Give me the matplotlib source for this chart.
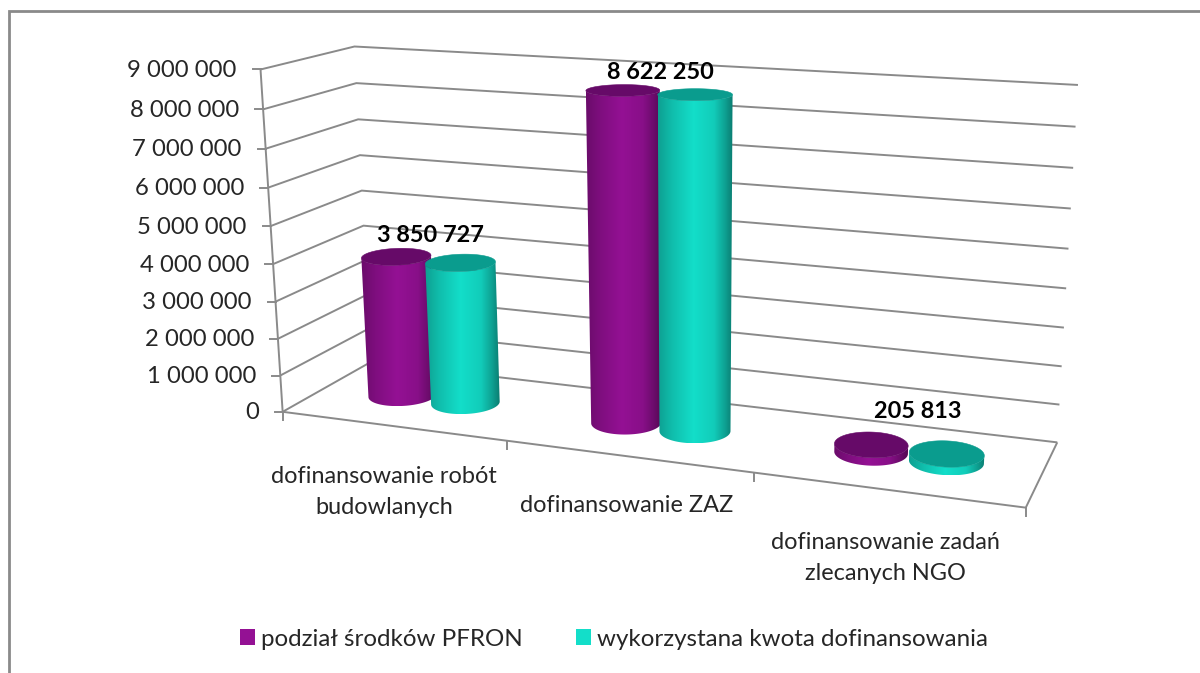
import numpy as np
import matplotlib
matplotlib.use("Agg")
import matplotlib.pyplot as plt
from matplotlib.patches import Patch, Polygon

categorias = ["dofinansowanie robót\nbudowlanych", "dofinansowanie ZAZ", "dofinansowanie zadań\nzlecanych NGO"]
podzial = [3850727, 8622250, 205813]
wykorzystana = [3850727, 8622250, 205813]
etykiety = ["3 850 727", "8 622 250", "205 813"]
ticks_y = [0, 1000000, 2000000, 3000000, 4000000, 5000000, 6000000, 7000000, 8000000, 9000000]
ticks_txt = ["0", "1 000 000", "2 000 000", "3 000 000", "4 000 000", "5 000 000", "6 000 000", "7 000 000", "8 000 000", "9 000 000"]
nazwy = ["podział środków PFRON", "wykorzystana kwota dofinansowania"]
kolory = [(0.58, 0.065, 0.58), (0.075, 0.87, 0.79)]
kolory_gora = ["#660A68", "#0A9C8E"]

ZMAX = 9000000.0
GRIS = "#8a8a8a"
TEXTO = "#262626"

plt.rcParams["font.family"] = ["Lato", "DejaVu Sans"]

# camara: esquinas de la caja (categoria, profundidad, valor/ZMAX) -> pixel
puntos = [(0, 0, 0), (3, 0, 0), (3, 1, 0), (0, 1, 0), (0, 0, 1), (0, 1, 1), (3, 1, 1)]
pixeles = [(282, 411), (1026, 508), (1057, 442), (371, 363), (261, 70), (354, 46), (1078, 85)]


def camara(pts, pix):
    A = []
    for (u, v, w), (x, y) in zip(pts, pix):
        A.append([u, v, w, 1, 0, 0, 0, 0, -u*x, -v*x, -w*x, -x])
        A.append([0, 0, 0, 0, u, v, w, 1, -u*y, -v*y, -w*y, -y])
    return np.linalg.svd(np.array(A, dtype=float))[2][-1].reshape(3, 4)


P = camara(puntos, pixeles)


def proy(cat, prof, z):
    cat, prof, z = np.broadcast_arrays(np.asarray(cat, float), np.asarray(prof, float), np.asarray(z, float))
    r = P @ np.stack([cat.ravel(), prof.ravel(), z.ravel()/ZMAX, np.ones(cat.size)])
    return (r[0]/r[2]).reshape(cat.shape), (r[1]/r[2]).reshape(cat.shape)


def linea(ax, cats, profs, zs, lw=1.4):
    x, y = proy(cats, profs, zs)
    ax.plot(x, y, color=GRIS, lw=lw, solid_capstyle="butt", solid_joinstyle="miter", zorder=1)


def arco_frontal(x, y):
    # del punto mas a la izquierda al mas a la derecha, pasando por delante
    i0 = np.argmin(x)
    x, y = np.roll(x, -i0), np.roll(y, -i0)
    i1 = np.argmax(x)
    return np.column_stack([x[:i1+1], y[:i1+1]])


def cilindro(ax, cat, valor, color, color_gora):
    rx, ry = 0.139, 0.2
    t = np.linspace(np.pi, 3*np.pi, 361)[:-1]
    xc = cat + rx*np.cos(t)
    yc = 0.5 + ry*np.sin(t)
    x0, y0 = proy(xc, yc, 0)
    x1, y1 = proy(xc, yc, valor)
    contorno = np.vstack([arco_frontal(x0, y0), arco_frontal(x1, y1)[::-1]])
    xmin = min(x0.min(), x1.min())
    xmax = max(x0.max(), x1.max())
    s = np.linspace(-1, 1, 256)
    b = np.interp(s, [-1, -0.6, -0.05, 0.5, 0.8, 1], [0.72, 0.86, 1, 0.92, 0.72, 0.56])
    grad = (np.array(color)[None, :]*b[:, None])[None, :, :]
    im = ax.imshow(grad, extent=[xmin, xmax, max(y0.max(), y1.max()), min(y0.min(), y1.min())],
                   aspect="auto", interpolation="bilinear", zorder=3)
    im.set_clip_path(Polygon(contorno, closed=True, transform=ax.transData))
    ax.fill(x1, y1, facecolor=color_gora, edgecolor=color_gora, lw=0.4, zorder=3)


fig = plt.figure(figsize=(12, 6.73), dpi=100)
ax = fig.add_axes([0, 0, 1, 1])
ax.axis("off")

# marco del grafico
ax.plot([9, 9, 1200], [673, 11, 11], color=GRIS, lw=2, solid_joinstyle="miter", zorder=1)

# paredes y piso
for z, txt in zip(ticks_y, ticks_txt):
    linea(ax, [0, 0, 3], [0, 1, 1], [z, z, z])
    x, y = proy(0, 0, z)
    ax.plot([x-8, x], [y, y], color=GRIS, lw=1.4, zorder=1)
    ax.text(x-24, y+1, txt, ha="right", va="center", fontsize=17.2, color=TEXTO)
linea(ax, [0, 0], [0, 0], [0, ZMAX])
linea(ax, [0, 3, 3], [0, 0, 1], [0, 0, 0])
for c in range(0, 4):
    x, y = proy(c, 0, 0)
    ax.plot([x, x], [y, y+8], color=GRIS, lw=1.4, zorder=1)

# cilindros
for i in range(3):
    cilindro(ax, i+0.352, podzial[i], kolory[0], kolory_gora[0])
    cilindro(ax, i+0.642, wykorzystana[i], kolory[1], kolory_gora[1])

# etiquetas de datos
lab_dx = [2, 1, 8]
lab_dy = [-24, -20, -38]
for i in range(3):
    x, y = proy(i+0.5, 0.5, podzial[i])
    ax.text(x+lab_dx[i], y+lab_dy[i], etykiety[i], ha="center", va="center", fontsize=16.9,
            fontweight="bold", color="black", zorder=5)

# etiquetas de categorias
cat_x = [384, 627, 885]
cat_y = [492, 506, 558]
for x, y, txt in zip(cat_x, cat_y, categorias):
    ax.text(x, y, txt, ha="center", va="center", fontsize=16.9, color=TEXTO, linespacing=1.63)

ax.set_xlim(0, 1200)
ax.set_ylim(673, 0)

ax.legend(handles=[Patch(facecolor=kolory[0], edgecolor="none", label=nazwy[0]),
                   Patch(facecolor=kolory[1], edgecolor="none", label=nazwy[1])],
          loc="center", bbox_to_anchor=(614/1200, 1-639/673), ncol=2, frameon=False,
          fontsize=17.4, labelcolor=TEXTO, handlelength=0.62, handleheight=0.62,
          handletextpad=0.25, columnspacing=2.2)

fig.savefig("out.png", dpi=100)
